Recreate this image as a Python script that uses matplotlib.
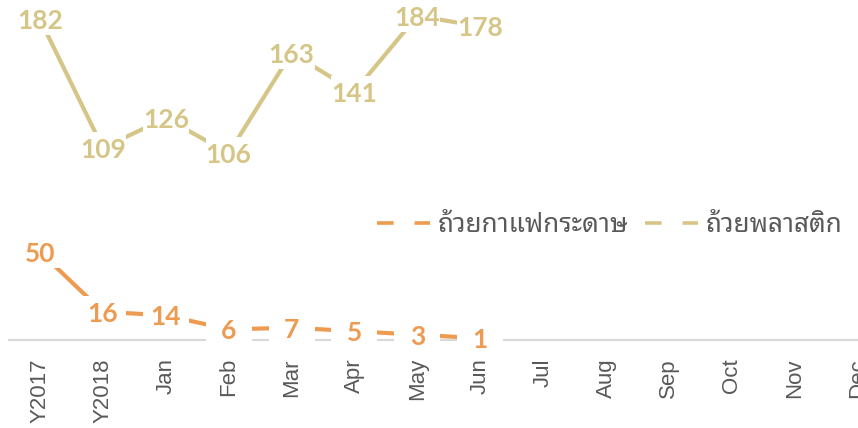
import matplotlib
matplotlib.use("Agg")
import matplotlib.pyplot as plt
from matplotlib.lines import Line2D
from matplotlib.path import Path

# ─── DATA ──────────────────────────────────────────────
categories = ["Y2017", "Y2018", "Jan", "Feb", "Mar", "Apr", "May", "Jun",
              "Jul", "Aug", "Sep", "Oct", "Nov", "Dec"]
paper_cups   = [50, 16, 14, 6, 7, 5, 3, 1]
plastic_cups = [182, 109, 126, 106, 163, 141, 184, 178]
series_names = ["ถ้วยกาแฟกระดาษ", "ถ้วยพลาสติก"]

# ─── STYLE ─────────────────────────────────────────────
ORANGE = "#EE9B52"
KHAKI  = "#D5C687"
GREY   = "#595959"
AXIS   = "#D9D9D9"
LABEL_FONT  = "Lato"
THAI_FONT   = ["Noto Sans Thai Looped", "DejaVu Sans"]
TICK_FONT   = "Liberation Sans"

# fixed-size white box behind every data label (Excel style)
LABEL_BOX = Path([(-1, -0.68), (1, -0.68), (1, 0.68), (-1, 0.68), (-1, -0.68)])

fig = plt.figure(figsize=(8.58, 4.28), dpi=100)
ax = fig.add_axes([0.00997, 0.2056, 1.0262, 0.7944])

x = list(range(len(categories)))

for values, color in [(paper_cups, ORANGE), (plastic_cups, KHAKI)]:
    xs = x[:len(values)]
    ax.plot(xs, values, color=color, linewidth=3, solid_capstyle="butt", zorder=2)
    ax.plot(xs, values, linestyle="none", marker=LABEL_BOX, markersize=33.8,
            markerfacecolor="white", markeredgewidth=0, zorder=2.5)
    for xi, v in zip(xs, values):
        ax.text(xi, v, str(v), ha="center", va="center_baseline",
                fontsize=19, fontweight="bold", family=LABEL_FONT, color=color,
                zorder=3)

ax.set_xlim(-0.5, len(categories) - 0.5)
ax.set_ylim(0, 193)
ax.set_xticks(x)
ax.set_xticklabels(categories, rotation=90, fontsize=16, family=TICK_FONT, color=GREY)
ax.tick_params(axis="x", length=0, pad=13)
ax.set_yticks([])
for side in ["top", "right", "left"]:
    ax.spines[side].set_visible(False)
ax.spines["bottom"].set_color(AXIS)
ax.spines["bottom"].set_linewidth(1.5)
ax.spines["bottom"].set_zorder(1)
ax.patch.set_visible(False)

# ─── LEGEND (line broken in the middle, like the label boxes) ─
handles = [Line2D([], [], color=c, linewidth=2.6, linestyle=(0, (4.6, 5.8)))
           for c in [ORANGE, KHAKI]]
ax.legend(handles, series_names, loc="center left",
          bbox_to_anchor=(377 / 858, 1 - 226 / 428), bbox_transform=fig.transFigure,
          ncol=2, frameon=False, borderpad=0, borderaxespad=0,
          handlelength=2.03, handletextpad=0.3, columnspacing=0.65,
          prop=dict(family=THAI_FONT, size=18.8), labelcolor=GREY)

fig.savefig("out.png", dpi=100)
